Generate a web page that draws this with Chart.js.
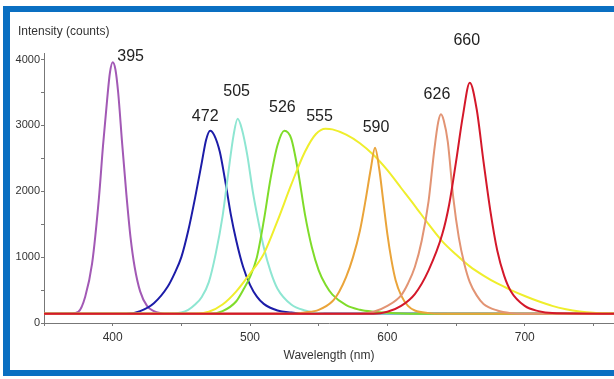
<!DOCTYPE html>
<html>
<head>
<meta charset="utf-8">
<script src="https://cdn.jsdelivr.net/npm/chart.js@4.4.1/dist/chart.umd.min.js"></script>
<style>
  html, body { margin: 0; padding: 0; background: #fff; }
  #wrap { position: relative; width: 614px; height: 379px; overflow: hidden; }
  #frame {
    position: absolute; left: 3px; top: 6px; width: 640px; height: 370px;
    box-sizing: border-box; border: solid #0a6fc2; border-width: 6px 0 6px 7px;
  }
  #chart { position: absolute; left: 0; top: 0; }
</style>
</head>
<body>
<div id="wrap">
  <div id="frame"></div>
  <canvas id="chart" width="614" height="379"></canvas>
</div>
<script>
// peak names as printed on the picture
const peakNames = ['395', '472', '505', '526', '555', '590', '626', '660'];

// axis ticks (labels only on every other one)
const xTicks = [350, 400, 450, 500, 550, 600, 650, 700, 750];
const xLabels = [400, 500, 600, 700];
const yTicks = [0, 500, 1000, 1500, 2000, 2500, 3000, 3500, 4000];
const yLabels = [0, 1000, 2000, 3000, 4000];

// wavelength (nm) / intensity (counts) for each LED spectrum
const wl395 = [350, 370, 375, 380, 385, 390, 393, 396, 398, 400, 402, 404, 407, 410, 413, 416, 420, 425, 430, 435, 440, 765];
const in395 = [140, 145, 170, 400, 900, 1900, 2700, 3400, 3800, 3960, 3850, 3500, 2700, 1950, 1300, 850, 480, 260, 180, 150, 140, 140];

const wl472 = [350, 410, 420, 430, 440, 445, 450, 455, 460, 465, 468, 471, 474, 478, 482, 486, 490, 495, 500, 505, 510, 520, 530, 540, 765];
const in472 = [140, 140, 180, 300, 550, 750, 1000, 1400, 1900, 2450, 2780, 2920, 2850, 2600, 2150, 1650, 1250, 850, 580, 400, 290, 190, 160, 145, 140];

const wl505 = [350, 440, 450, 455, 460, 465, 470, 475, 480, 484, 488, 491, 494, 498, 502, 506, 510, 515, 520, 530, 540, 550, 560, 765];
const in505 = [140, 140, 160, 200, 280, 400, 620, 1050, 1620, 2250, 2850, 3100, 2950, 2550, 2000, 1550, 1150, 780, 520, 280, 190, 150, 140, 140];

const wl526 = [350, 470, 480, 490, 495, 500, 505, 510, 515, 520, 525, 530, 535, 540, 545, 550, 555, 560, 570, 580, 590, 600, 620, 765];
const in526 = [140, 140, 180, 330, 500, 700, 1000, 1550, 2200, 2700, 2920, 2800, 2300, 1650, 1150, 800, 580, 430, 270, 200, 170, 155, 140, 140];

const wl555 = [350, 460, 470, 480, 490, 500, 510, 520, 530, 540, 548, 555, 560, 570, 580, 590, 600, 610, 620, 630, 640, 650, 660, 670, 680, 690, 700, 710, 720, 730, 740, 750, 765];
const in555 = [140, 140, 170, 280, 480, 750, 1050, 1550, 2100, 2600, 2870, 2950, 2940, 2860, 2730, 2550, 2320, 2050, 1780, 1500, 1240, 1040, 860, 720, 600, 500, 410, 330, 260, 210, 175, 155, 145];

const wl590 = [350, 530, 540, 550, 560, 565, 570, 575, 580, 584, 588, 591, 594, 597, 600, 603, 606, 610, 615, 620, 630, 640, 765];
const in590 = [140, 140, 160, 200, 330, 480, 700, 1000, 1400, 1850, 2350, 2660, 2350, 1850, 1350, 950, 650, 420, 260, 190, 150, 140, 140];

const wl626 = [350, 580, 590, 600, 610, 615, 620, 625, 630, 634, 637, 639, 641, 644, 648, 652, 656, 660, 665, 670, 680, 690, 700, 765];
const in626 = [140, 140, 170, 260, 420, 600, 850, 1250, 1850, 2600, 3050, 3170, 3080, 2750, 1900, 1300, 900, 620, 420, 290, 190, 150, 140, 140];

const wl660 = [350, 590, 600, 610, 620, 630, 640, 645, 650, 655, 660, 665, 670, 675, 680, 685, 690, 700, 710, 720, 765];
const in660 = [140, 140, 170, 260, 440, 800, 1350, 1800, 2450, 3150, 3650, 3250, 2450, 1700, 1100, 720, 480, 260, 180, 150, 140];

const wavelengths = [wl395, wl472, wl505, wl526, wl555, wl590, wl626, wl660];
const intensities = [in395, in472, in505, in526, in555, in590, in626, in660];

const colors = ['#a259b5', '#1c1ca8', '#8ee6d2', '#7fdc2a', '#efee2c', '#eaa43a', '#e29474', '#d4182a'];
// where the number sits relative to the top of its curve (px)
const labelShift = [[18, -6], [-5, -14], [-1, -27], [-2, -23], [-6, -12], [1, -20], [-4, -20], [-3, -42]];

const datasets = peakNames.map((name, i) => ({
  label: name,
  data: wavelengths[i].map((w, j) => ({ x: w, y: intensities[i][j] })),
  borderColor: colors[i],
  borderWidth: 2,
  pointRadius: 0,
  cubicInterpolationMode: 'monotone',
  order: i === peakNames.length - 1 ? 0 : peakNames.length - i,
  labelShift: labelShift[i]
}));

const font = { family: '"Liberation Sans", Arial, sans-serif', size: 12 };

// peak numbers plus the y-axis heading in the top-left corner
const annotate = {
  id: 'annotate',
  afterDatasetsDraw(chart) {
    const { ctx, chartArea } = chart;
    ctx.save();
    ctx.font = '16px "Liberation Sans", Arial, sans-serif';
    ctx.fillStyle = '#222';
    ctx.textAlign = 'center';
    ctx.textBaseline = 'middle';
    chart.data.datasets.forEach((ds, i) => {
      const pts = chart.getDatasetMeta(i).data;
      let top = pts[0];
      pts.forEach(p => { if (p.y < top.y) top = p; });
      ctx.fillText(ds.label, top.x + ds.labelShift[0], top.y + ds.labelShift[1]);
    });
    ctx.font = '12px "Liberation Sans", Arial, sans-serif';
    ctx.fillStyle = '#333';
    ctx.textAlign = 'left';
    ctx.fillText('Intensity (counts)', chartArea.left - 26, chartArea.top - 21);
    ctx.restore();
  }
};

new Chart(document.getElementById('chart'), {
  type: 'line',
  data: { datasets },
  plugins: [annotate],
  options: {
    responsive: false,
    animation: false,
    layout: { padding: { left: 0, right: 0, top: 53, bottom: 0 } },
    plugins: {
      legend: { display: false },
      tooltip: { enabled: false }
    },
    scales: {
      x: {
        type: 'linear',
        min: 350,
        max: 765,
        afterFit: s => { s.height = 56; },
        afterBuildTicks: s => { s.ticks = xTicks.map(v => ({ value: v })); },
        grid: { drawOnChartArea: false, drawTicks: true, tickLength: 3, color: '#777' },
        border: { color: '#777' },
        ticks: {
          autoSkip: false,
          maxRotation: 0,
          padding: 4,
          color: '#333',
          font,
          callback: v => (xLabels.includes(v) ? String(v) : '')
        },
        title: { display: true, text: 'Wavelength (nm)', color: '#333', font, padding: { top: 0, bottom: 16 } }
      },
      y: {
        min: 0,
        max: 4100,
        afterFit: s => { s.width = 44; },
        afterBuildTicks: s => { s.ticks = yTicks.map(v => ({ value: v })); },
        grid: { drawOnChartArea: false, drawTicks: true, tickLength: 3, color: '#777' },
        border: { color: '#777' },
        ticks: {
          autoSkip: false,
          padding: 1,
          color: '#333',
          font: { ...font, size: 11 },
          callback: v => (yLabels.includes(v) ? String(v) : '')
        }
      }
    }
  }
});
</script>
</body>
</html>
